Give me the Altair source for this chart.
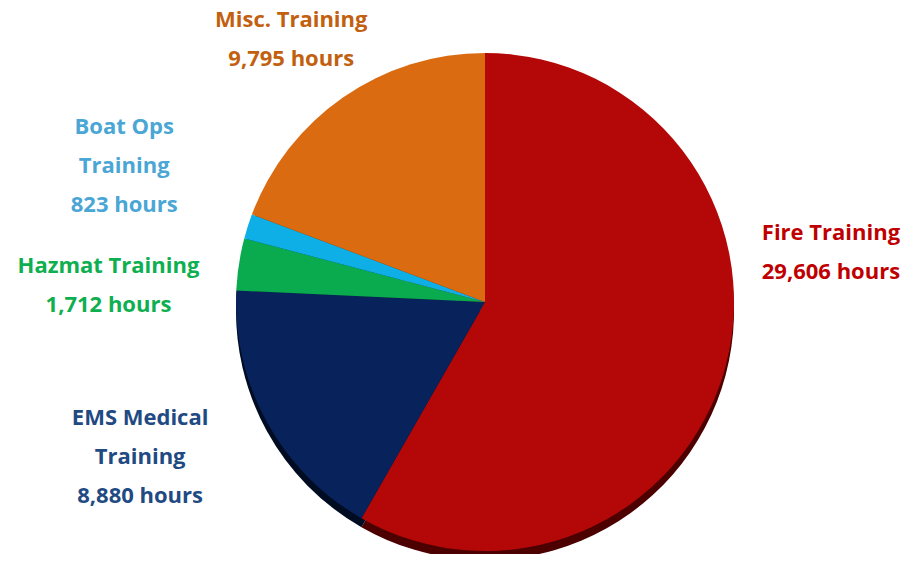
import altair as alt
import pandas as pd

# Data
categories = ["Fire Training", "EMS Medical Training", "Hazmat Training",
              "Boat Ops Training", "Misc. Training"]
label_names = ["Fire Training", "EMS Medical\nTraining", "Hazmat Training",
               "Boat Ops\nTraining", "Misc. Training"]
hours = [29606, 8880, 1712, 823, 9795]
slice_colors = ["#B40808", "#08225C", "#0AAA4F", "#0EAEE6", "#DA6B10"]
shadow_colors = ["#4C0000", "#000C22", "#03401D", "#04405A", "#5A2A05"]
label_colors = ["#C00000", "#1F4A82", "#0DAF50", "#4AA6D5", "#C2600F"]

df = pd.DataFrame({
    "category": categories,
    "order": list(range(len(categories))),
    "hours": hours,
    "label": [f"{n}\n{h:,} hours" for n, h in zip(label_names, hours)],
})

CX, CY = 477, 294   # plot-area coords of pie centre
R = 249
SHADOW = 9

theta = alt.Theta("hours:Q", stack=True)
order = alt.Order("order:Q")

shadow = alt.Chart(df).mark_arc(radius=R).encode(
    theta=theta, order=order,
    color=alt.Color("category:N", scale=alt.Scale(domain=categories, range=shadow_colors), legend=None),
    x=alt.value(CX), y=alt.value(CY + SHADOW),
)

face = alt.Chart(df).mark_arc(radius=R).encode(
    theta=theta, order=order,
    fill=alt.Fill("category:N", scale=alt.Scale(domain=categories, range=slice_colors), legend=None),
    x=alt.value(CX), y=alt.value(CY),
)

# label offsets from the slice centroid at radius 300
offsets = {
    "Fire Training": (56, -146),
    "EMS Medical Training": (-82, -29),
    "Hazmat Training": (-80, 9),
    "Boat Ops Training": (-75, -84),
    "Misc. Training": (-23, -35),
}

label_layers = []
for cat, col in zip(categories, label_colors):
    dx, dy = offsets[cat]
    label_layers.append(
        alt.Chart(df).transform_calculate(
            shown=f"datum.category === '{cat}' ? datum.label : ''"
        ).mark_text(
            radius=300, font="Open Sans", fontWeight="bold", fontSize=22,
            lineBreak="\n", lineHeight=39, align="center", baseline="middle",
            color=col, dx=dx, dy=dy,
        ).encode(
            theta=theta, order=order, text="shown:N",
            x=alt.value(CX), y=alt.value(CY),
        )
    )

chart = alt.layer(shadow, face, *label_layers).resolve_scale(
    color="independent", fill="independent"
).properties(
    width=904, height=546, padding=0,
    autosize=alt.AutoSizeParams(type="none"),
).configure_view(stroke="transparent", strokeWidth=0)

chart.save("out.html", embed_options={"renderer": "svg", "actions": False})
